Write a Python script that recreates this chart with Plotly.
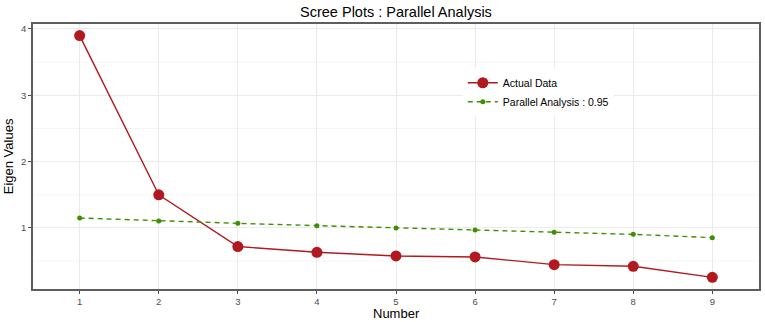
import plotly.graph_objects as go

numbers = [1, 2, 3, 4, 5, 6, 7, 8, 9]
actual_data = [3.90, 1.50, 0.72, 0.633, 0.578, 0.563, 0.447, 0.422, 0.256]
parallel_95 = [1.15, 1.105, 1.07, 1.035, 1.00, 0.97, 0.934, 0.904, 0.854]
x_ticks = [1, 2, 3, 4, 5, 6, 7, 8, 9]
y_ticks = [1, 2, 3, 4]
y_minor = [0.5, 1.5, 2.5, 3.5]

fig = go.Figure()
fig.add_trace(go.Scatter(
    x=numbers, y=actual_data, mode="lines+markers", name="Actual Data",
    line=dict(color="#B2191F", width=1.4),
    marker=dict(color="#B2191F", size=11),
))
fig.add_trace(go.Scatter(
    x=numbers, y=parallel_95, mode="lines+markers", name="Parallel Analysis : 0.95",
    line=dict(color="#3F8F00", width=1.4, dash="5px,4px"),
    marker=dict(color="#3F8F00", size=5),
))

for v in y_minor:
    fig.add_shape(type="line", xref="paper", yref="y", x0=0, x1=1, y0=v, y1=v,
                  line=dict(color="#F2F2F2", width=0.8), layer="below")

# plot area: x 33..759, y 24..289 (height 265)
fig.add_annotation(text="Number", xref="paper", yref="paper", x=0.5, y=-0.0906,
                   xanchor="center", yanchor="middle", showarrow=False,
                   font=dict(size=13, color="#000000"))
fig.add_annotation(text="Eigen Values", xref="paper", yref="paper", x=-0.0334, y=0.5,
                   xanchor="center", yanchor="middle", showarrow=False, textangle=-90,
                   font=dict(size=13, color="#000000"))

fig.update_layout(
    width=765, height=322,
    margin=dict(l=33, r=6, t=24, b=33, autoexpand=False),
    paper_bgcolor="white", plot_bgcolor="white",
    font=dict(family="Liberation Sans, Arial, sans-serif", color="#000000"),
    title=dict(text="Scree Plots : Parallel Analysis", x=0.5176, xanchor="center",
               y=0.9627, yanchor="middle", font=dict(size=14.5, color="#000000")),
    showlegend=True,
    legend=dict(x=0.592, y=0.833, xanchor="left", yanchor="top",
                bgcolor="white", borderwidth=0, font=dict(size=10.5, color="#000000"),
                tracegroupgap=0, itemsizing="trace"),
    xaxis=dict(
        range=[0.41, 9.59], tickmode="array", tickvals=x_ticks, automargin=False,
        showgrid=True, gridcolor="#EBEBEB", gridwidth=1,
        showline=True, linecolor="#5E5E5E", linewidth=1.5, mirror=True,
        ticks="outside", ticklen=3, tickcolor="#4D4D4D", tickwidth=1,
        tickfont=dict(size=9.5, color="#4D4D4D"),
        zeroline=False,
    ),
    yaxis=dict(
        range=[0.08, 4.075], tickmode="array", tickvals=y_ticks, automargin=False,
        showgrid=True, gridcolor="#EBEBEB", gridwidth=1,
        showline=True, linecolor="#5E5E5E", linewidth=1.5, mirror=True,
        ticks="outside", ticklen=3, tickcolor="#4D4D4D", tickwidth=1,
        tickfont=dict(size=9.5, color="#4D4D4D"),
        zeroline=False,
    ),
)

fig.write_html("out.html", config={"displayModeBar": False},
               post_script="document.body.style.margin='0px';")
